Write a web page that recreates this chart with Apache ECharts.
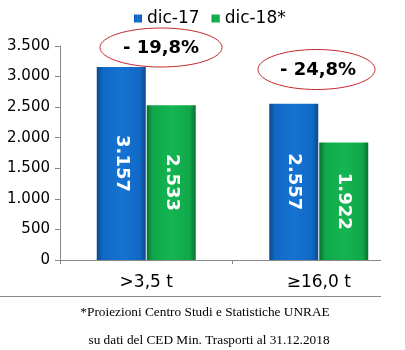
<!DOCTYPE html>
<html><head><meta charset="utf-8">
<script src="https://cdn.jsdelivr.net/npm/echarts@6/dist/echarts.min.js"></script>
<style>html,body{margin:0;padding:0;background:#fff}#c{width:405px;height:350px}</style>
</head><body><div id="c"></div>
<script>
const categories = ['>3,5 t', '≥16,0 t'];
const seriesNames = ['dic-17', 'dic-18*'];
const dic17 = [3157, 2557];
const dic18 = [2533, 1922];
const changes = ['- 19,8%', '- 24,8%'];
const yTicks = { min: 0, max: 3500, interval: 500 };
const footnote = ['*Proiezioni Centro Studi e Statistiche UNRAE', 'su dati del CED Min. Trasporti al 31.12.2018'];

function fmt(v){ return String(v).replace(/\B(?=(\d{3})+(?!\d))/g, '.'); }
function grad(dark, mid, light){
  return new echarts.graphic.LinearGradient(0,0,1,0,[
    {offset:0,color:dark},{offset:0.12,color:mid},{offset:0.5,color:light},{offset:0.88,color:mid},{offset:1,color:dark}]);
}
const chart = echarts.init(document.getElementById('c'));
const font = 'DejaVu Sans';
const labelCfg = {show:true, position:'inside', rotate:-90, color:'#fff', fontFamily:font, fontWeight:'bold', fontSize:18, formatter:p=>fmt(p.value)};
chart.setOption({
  animation:false,
  legend:{top:5,left:129,icon:'rect',itemWidth:8,itemHeight:8,itemGap:12,
    textStyle:{fontFamily:font,fontSize:17,color:'#000'},data:seriesNames},
  grid:{left:60,right:0,top:46,bottom:90},
  xAxis:{type:'category',data:categories,
    axisLine:{show:false},
    axisTick:{show:true,length:4,lineStyle:{color:'#888'}},
    axisLabel:{fontFamily:font,fontSize:17,color:'#000',margin:14}},
  yAxis:{type:'value',min:yTicks.min,max:yTicks.max,interval:yTicks.interval,
    axisLine:{show:true,lineStyle:{color:'#888'}},
    axisTick:{show:true,length:5,lineStyle:{color:'#888'}},
    splitLine:{show:false},
    axisLabel:{fontFamily:font,fontSize:15,color:'#000',margin:10,formatter:v=>fmt(v)}},
  series:[
    {name:seriesNames[0],type:'bar',data:dic17,barWidth:49,barGap:'2%',
     itemStyle:{color:grad('#0b4a8c','#1068c4','#1673d2')},label:labelCfg},
    {name:seriesNames[1],type:'bar',data:dic18,barWidth:49,
     itemStyle:{color:grad('#0a7033','#10a748','#14b552')},label:labelCfg}
  ],
  graphic:[
    {type:'line',shape:{x1:55,y1:260.5,x2:381,y2:260.5},style:{stroke:'#888',lineWidth:1}},
    {type:'line',shape:{x1:0,y1:296.5,x2:381,y2:296.5},style:{stroke:'#888',lineWidth:1}},
    {type:'ellipse',shape:{cx:161,cy:47.5,rx:61,ry:19.5},style:{fill:'none',stroke:'#c0282d',lineWidth:1}},
    {type:'text',x:161,y:48,style:{text:changes[0],font:'bold 18px "DejaVu Sans"',fill:'#000',align:'center',verticalAlign:'middle'}},
    {type:'ellipse',shape:{cx:316.5,cy:69.5,rx:58.5,ry:20},style:{fill:'none',stroke:'#c0282d',lineWidth:1}},
    {type:'text',x:318,y:70,style:{text:changes[1],font:'bold 18px "DejaVu Sans"',fill:'#000',align:'center',verticalAlign:'middle'}},
    {type:'text',x:205,y:313,style:{text:footnote[0],font:'13.3px "Liberation Serif"',fill:'#000',align:'center',verticalAlign:'middle'}},
    {type:'text',x:209,y:341,style:{text:footnote[1],font:'13.3px "Liberation Serif"',fill:'#000',align:'center',verticalAlign:'middle'}}
  ]
});
</script></body></html>
